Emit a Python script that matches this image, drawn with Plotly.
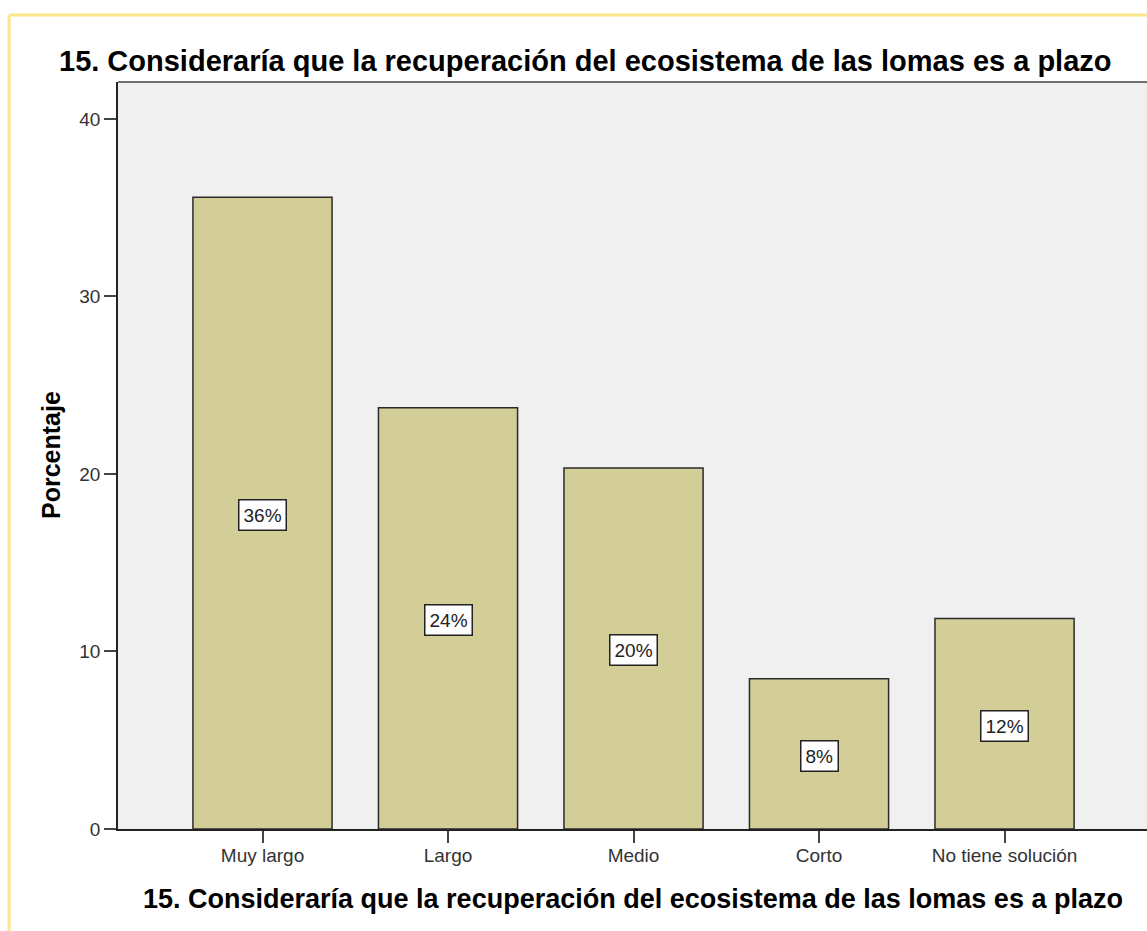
import plotly.graph_objects as go

# datos (n = 59 encuestados)
categorias = ['Muy largo', 'Largo', 'Medio', 'Corto', 'No tiene solución']
porcentajes = [35.59, 23.73, 20.34, 8.47, 11.86]
etiquetas = ['36%', '24%', '20%', '8%', '12%']
titulo = '15. Consideraría que la recuperación del ecosistema de las lomas es a plazo'

W, H = 1147, 931
L, R, T, B = 118, 0, 82, 102
pw, ph = W - L - R, H - T - B
FONT = 'Liberation Sans, Arial'

def px_x(px):
    return (px - L) / pw

def px_y(py):
    return (H - B - py) / ph

fig = go.Figure()
fig.add_trace(go.Bar(
    x=list(range(len(categorias))),
    y=porcentajes,
    width=0.75,
    marker=dict(color='#D3CE98', line=dict(color='#2b2b2b', width=1.5)),
    hoverinfo='skip',
))

# etiquetas en caja blanca
for i, (v, t) in enumerate(zip(porcentajes, etiquetas)):
    fig.add_annotation(x=i, y=v / 2, text=t, showarrow=False, yshift=-2,
                       font=dict(family=FONT, size=19, color='#222'),
                       bgcolor='white', bordercolor='#222', borderwidth=1.5, borderpad=4)

# marco amarillo exterior y línea superior del área de trazado
fig.add_shape(type='line', xref='paper', yref='paper',
              x0=px_x(9), x1=px_x(1160), y0=px_y(15), y1=px_y(15),
              line=dict(color='#FCE58A', width=3))
fig.add_shape(type='line', xref='paper', yref='paper',
              x0=px_x(9), x1=px_x(9), y0=px_y(15), y1=px_y(940),
              line=dict(color='#FCE58A', width=3))
fig.add_shape(type='line', xref='paper', yref='paper',
              x0=0, x1=1.02, y0=1, y1=1, line=dict(color='#444', width=1.5))

# títulos
fig.add_annotation(xref='paper', yref='paper', x=px_x(585), y=px_y(61),
                   xanchor='center', yanchor='middle',
                   text='<b>' + titulo + '</b>', showarrow=False,
                   font=dict(family=FONT, size=29, color='black'))
fig.add_annotation(xref='paper', yref='paper', x=px_x(633), y=px_y(899),
                   xanchor='center', yanchor='middle',
                   text='<b>' + titulo + '</b>', showarrow=False,
                   font=dict(family=FONT, size=27, color='black'))
fig.add_annotation(xref='paper', yref='paper', x=px_x(51), y=px_y(455),
                   xanchor='center', yanchor='middle',
                   text='<b>Porcentaje</b>', showarrow=False, textangle=-90,
                   font=dict(family=FONT, size=25, color='black'))

fig.update_layout(
    width=W, height=H, autosize=False,
    margin=dict(l=L, r=R, t=T, b=B, pad=0),
    paper_bgcolor='white', plot_bgcolor='#F0F0F0',
    showlegend=False,
    font=dict(family=FONT, color='#333'),
    xaxis=dict(
        tickvals=list(range(len(categorias))), ticktext=categorias,
        range=[-0.779, 4.768], showgrid=False, zeroline=False,
        showline=True, linecolor='#222', linewidth=1.5,
        ticks='outside', ticklen=12, tickwidth=1.5, tickcolor='#444',
        tickfont=dict(size=19, color='#333'), ticklabelstandoff=-4,
    ),
    yaxis=dict(
        range=[0, 42.08], tickvals=[0, 10, 20, 30, 40],
        showgrid=False, zeroline=False,
        showline=True, linecolor='#222', linewidth=1.5,
        ticks='outside', ticklen=12, tickwidth=1.5, tickcolor='#444',
        tickfont=dict(size=19, color='#333'),
    ),
)

fig.write_html("out.html", config={'displayModeBar': False},
               post_script="document.body.style.margin='0';")
